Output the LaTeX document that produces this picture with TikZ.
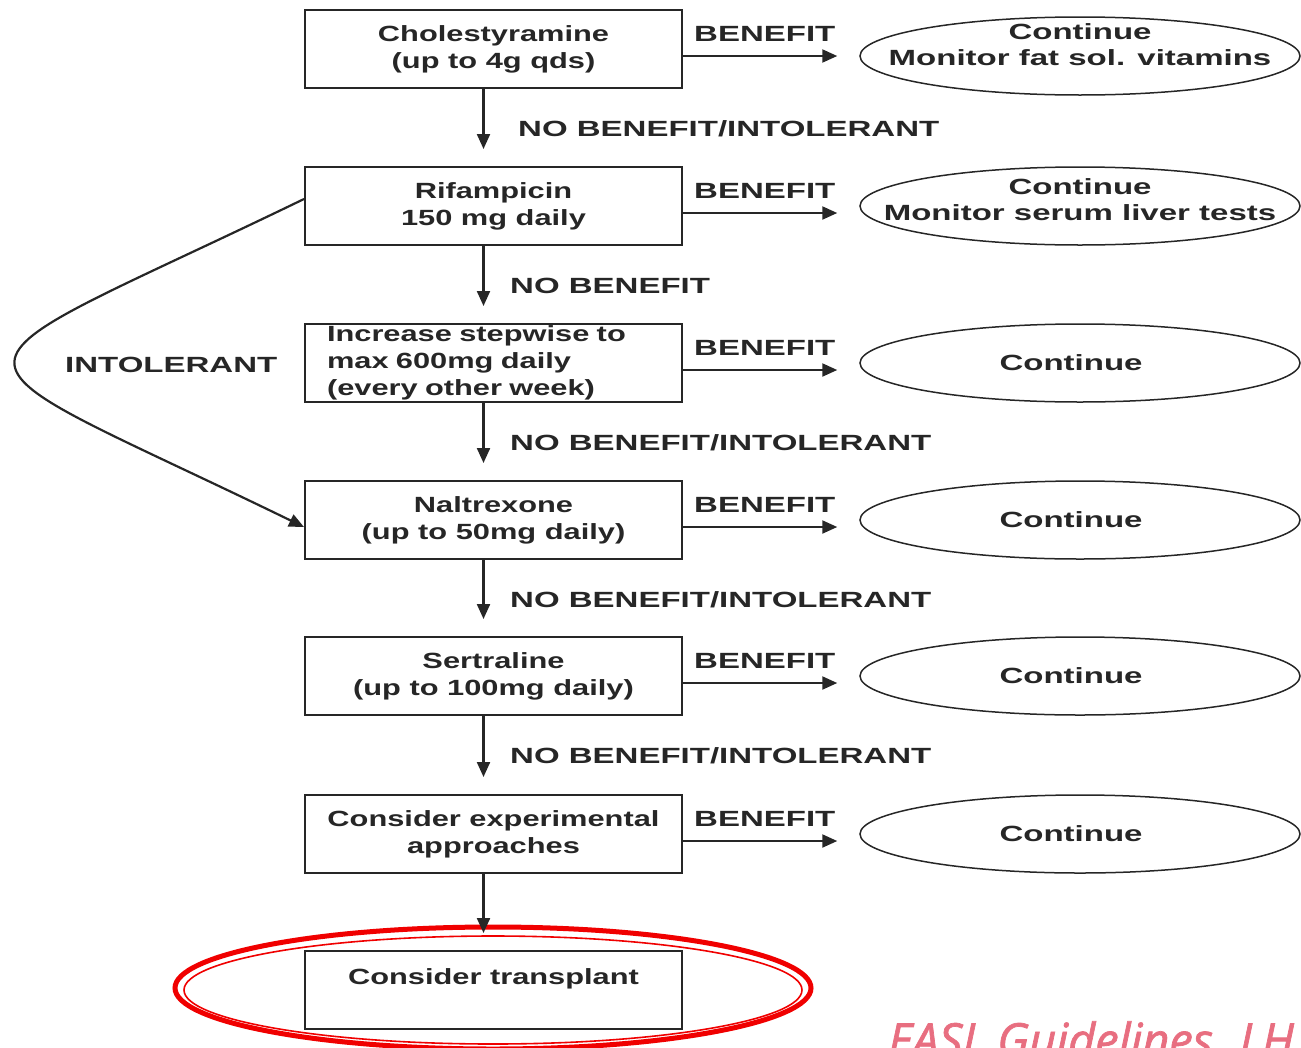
\documentclass[tikz,border=0pt]{standalone}
\usepackage{fontspec}
\setmainfont{Liberation Sans}[FakeStretch=1.4,UprightFont=* Bold]
\newfontfamily\lblfont{Liberation Sans}[FakeStretch=1.5,UprightFont=* Bold]
\newfontfamily\easlfont{Open Sans}[FakeBold=1.5]
\usetikzlibrary{arrows.meta,shapes.geometric}
\definecolor{ink}{HTML}{262626}
\definecolor{easl}{HTML}{E86E80}
\definecolor{ring}{HTML}{F00000}
\newcommand\fs{\fontsize{22}{27}\selectfont}
\newcommand\lfs{\lblfont\fontsize{22}{26}\selectfont}
\tikzset{
  box/.style={draw=ink, line width=2pt, minimum width=377pt, minimum height=78pt,
    inner sep=0pt, align=center, font=\fs, text=ink},
  oval/.style={draw=ink, line width=1.5pt, ellipse, minimum width=440pt,
    minimum height=78pt, inner sep=0pt},
  otext/.style={font=\lfs, text=ink, align=center, inner sep=0pt},
  arr/.style={draw=ink, line width=2.2pt, -{Triangle[length=15pt,width=13pt]}},
  lbl/.style={font=\lfs, text=ink, inner sep=0pt, anchor=base west}
}
\begin{document}
\begin{tikzpicture}[x=1pt,y=-1pt]
\useasboundingbox (0,0) rectangle (1301,1047);
\clip (0,0) rectangle (1301,1047);

% boxes
\node[box] (b1) at (493.5,49) {Cholestyramine\\(up to 4g qds)};
\node[box] (b2) at (493.5,206) {Rifampicin\\150 mg daily};
\node[box,align=left,text width=333pt] (b3) at (493.5,363) {Increase stepwise to\\max 600mg daily\\(every other week)};
\node[box] (b4) at (493.5,520) {Naltrexone\\(up to 50mg daily)};
\node[box] (b5) at (493.5,676) {Sertraline\\(up to 100mg daily)};
\node[box] (b6) at (493.5,834) {Consider experimental\\approaches};

% red ring
\draw[ring, line width=5pt] (493,988) ellipse [x radius=318pt, y radius=61pt];
\draw[ring, line width=1.6pt] (493,990) ellipse [x radius=309pt, y radius=54pt];

\node[box] (b7) at (493.5,990) {Consider transplant\\\mbox{}};

% ellipses
\node[oval] (e1) at (1080,56) {};
\node[otext] (t1) at ([yshift=11pt]e1.center) {Continue\\Monitor fat sol. vitamins};
\node[oval] (e2) at (1080,206) {};
\node[otext] (t2) at ([yshift=6pt]e2.center) {Continue\\Monitor serum liver tests};
\node[oval] (e3) at (1080,363) {};
\node[otext] (t3) at ([xshift=-9pt]e3.center) {Continue};
\node[oval] (e4) at (1080,520) {};
\node[otext] (t4) at ([xshift=-9pt]e4.center) {Continue};
\node[oval] (e5) at (1080,676) {};
\node[otext] (t5) at ([xshift=-9pt]e5.center) {Continue};
\node[oval] (e6) at (1080,834) {};
\node[otext] (t6) at ([xshift=-9pt]e6.center) {Continue};

% benefit arrows and labels
\foreach \i in {1,...,6}{
  \draw[arr, shorten >=22pt] ([yshift=-7pt]b\i.east) -- ([yshift=-7pt]b\i.east -| e\i.west);
  \node[lbl] (bl\i) at ([xshift=11pt,yshift=8pt]b\i.east) {BENEFIT};
}

% down arrows
\draw[arr] ([xshift=-10pt]b1.south) -- ([xshift=-10pt,yshift=17pt]b2.north);
\draw[arr] ([xshift=-10pt]b2.south) -- ([xshift=-10pt,yshift=17pt]b3.north);
\draw[arr] ([xshift=-10pt]b3.south) -- ([xshift=-10pt,yshift=17pt]b4.north);
\draw[arr] ([xshift=-10pt]b4.south) -- ([xshift=-10pt,yshift=17pt]b5.north);
\draw[arr] ([xshift=-10pt]b5.south) -- ([xshift=-10pt,yshift=17pt]b6.north);
\draw[arr] ([xshift=-10pt]b6.south) -- ([xshift=-10pt,yshift=17pt]b7.north);

\node[lbl] (n1) at ([xshift=24.5pt,yshift=-47pt]b1.south) {NO BENEFIT/INTOLERANT};
\node[lbl] (n2) at ([xshift=16.5pt,yshift=-47pt]b2.south) {NO BENEFIT};
\node[lbl] (n3) at ([xshift=16.5pt,yshift=-47pt]b3.south) {NO BENEFIT/INTOLERANT};
\node[lbl] (n4) at ([xshift=16.5pt,yshift=-47pt]b4.south) {NO BENEFIT/INTOLERANT};
\node[lbl] (n5) at ([xshift=16.5pt,yshift=-47pt]b5.south) {NO BENEFIT/INTOLERANT};

% intolerant curve
\draw[arr] ([yshift=7pt]b2.west) .. controls (-80,385) and (-80,340) .. ([yshift=-7pt]b4.west);
\node[lbl] (il) at (65,372) {INTOLERANT};

% watermark text
\node[anchor=base west, inner sep=0pt, text=easl,
  font=\easlfont\itshape\fontsize{47}{54}\selectfont] (easlt) at (888,1057) {EASL Guidelines\hspace{0.3em} LH};
\end{tikzpicture}
\end{document}
